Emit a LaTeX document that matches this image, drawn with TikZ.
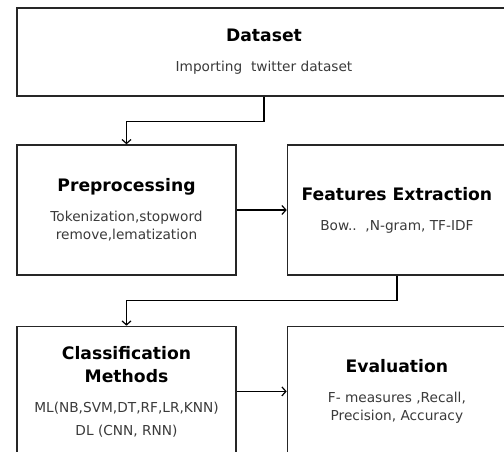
\documentclass[tikz,border=0pt]{standalone}
\usepackage{fontspec}
\setmainfont{DejaVu Sans}
\usepackage{tikz}
\usetikzlibrary{calc,positioning,arrows,arrows.meta}
\definecolor{subgray}{HTML}{3A3A3A}
\newcommand{\stagetitle}{\fontsize{17.2}{23}\selectfont\bfseries\color{black}}
\tikzset{
    >={Straight Barb[length=4pt,width=9pt]},
    stagebox/.style={
      rectangle,
      draw=black!85, line width=1.4pt,
      minimum width=219pt,
      minimum height=130pt,
      align=center,
      text=subgray,
      font=\fontsize{13.7}{18}\selectfont,
      inner sep=0pt},
    wide/.style={minimum width=494pt, minimum height=88pt},
    link/.style={draw, line width=1.2pt, ->},
}
\begin{document}
\begin{tikzpicture}[x=1pt,y=-1pt,node distance=50pt]
    \path[use as bounding box, clip] (0,0) rectangle (504,452);
    \node[stagebox, wide] (dataset) at (264,52)
        {\stagetitle Dataset\\[12pt] Importing\ \ twitter dataset};
    \node[stagebox] (preproc) at (126.5,210)
        {\stagetitle Preprocessing\\[12pt] Tokenization,stopword\\remove,lematization};
    \node[stagebox, right=of preproc] (featExtr)
        {\stagetitle Features Extraction\\[12pt] Bow..\ \ ,N-gram, TF-IDF};
    \node[stagebox, below=of preproc] (classif)
        {\stagetitle Classification\\[5pt]\stagetitle Methods\\[12pt] ML(NB,SVM,DT,RF,LR,KNN)\\[5pt]DL (CNN, RNN)};
    \node[stagebox, right=of classif] (evalu)
        {\stagetitle Evaluation\\[12pt] F- measures ,Recall,\\Precision, Accuracy};

    \draw[link] (dataset.south) -- ++(0,24.5) -| (preproc.north);
    \draw[link] (preproc) -- (featExtr);
    \draw[link] (featExtr.south) -- ++(0,25) -| (classif.north);
    \draw[link] (classif) -- (evalu);
\end{tikzpicture}
\end{document}
